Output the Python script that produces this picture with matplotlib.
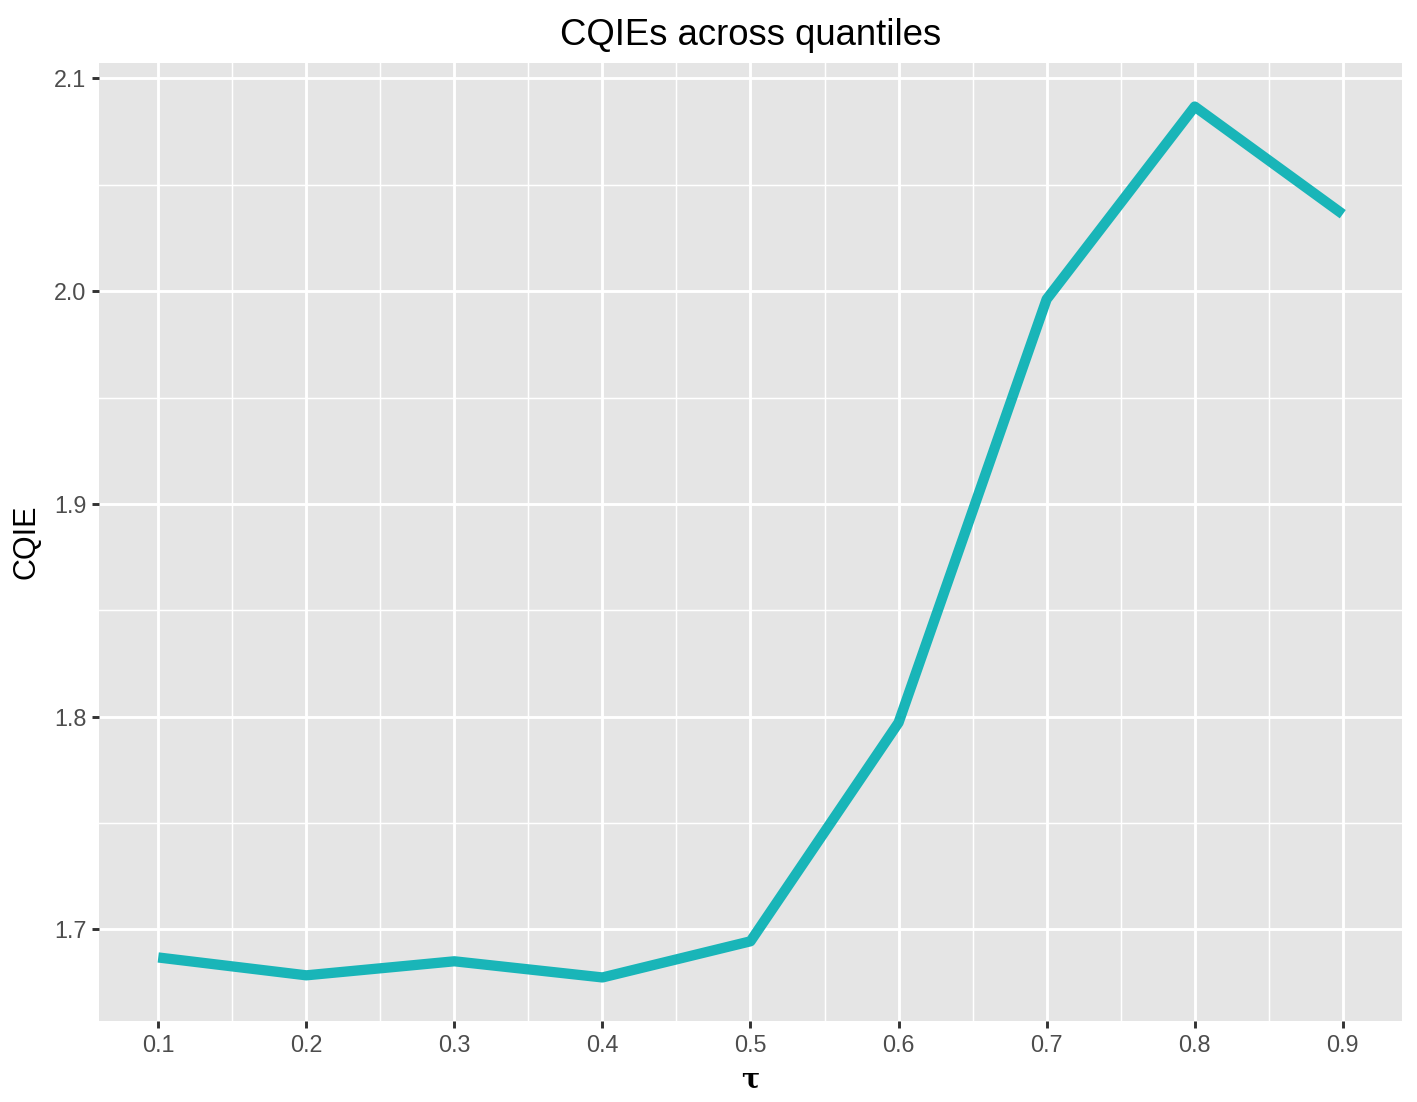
import matplotlib
matplotlib.use("Agg")
import matplotlib.pyplot as plt
import numpy as np

tau = [0.1, 0.2, 0.3, 0.4, 0.5, 0.6, 0.7, 0.8, 0.9]
cqie = [1.6868, 1.6784, 1.6850, 1.6774, 1.6944, 1.7972, 1.9962, 2.0868, 2.0362]
x_ticks = [0.1, 0.2, 0.3, 0.4, 0.5, 0.6, 0.7, 0.8, 0.9]
y_ticks = [1.7, 1.8, 1.9, 2.0, 2.1]
x_minor = [0.15, 0.25, 0.35, 0.45, 0.55, 0.65, 0.75, 0.85]
y_minor = [1.75, 1.85, 1.95, 2.05]

plt.rcParams['font.family'] = ['Liberation Sans', 'DejaVu Sans']

fig = plt.figure(figsize=(14.17, 11.02), dpi=100)
ax = fig.add_axes([99/1417, 1 - 1021/1102, (1402-99)/1417, (1021-63)/1102])
ax.set_facecolor('#E5E5E5')

ax.plot(tau, cqie, color='#19B5B8', lw=7.4, solid_capstyle='butt',
        solid_joinstyle='round', zorder=3)

xr = max(tau) - min(tau)
yr = max(cqie) - min(cqie)
ax.set_xlim(min(tau) - 0.05 * xr, max(tau) + 0.05 * xr)
ax.set_ylim(min(cqie) - 0.05 * yr, max(cqie) + 0.05 * yr)

ax.set_xticks(x_ticks)
ax.set_xticklabels([f"{v:.1f}" for v in x_ticks])
ax.set_yticks(y_ticks)
ax.set_yticklabels([f"{v:.1f}" for v in y_ticks])
ax.set_xticks(x_minor, minor=True)
ax.set_yticks(y_minor, minor=True)

ax.grid(which='major', color='white', lw=2.1, zorder=1)
ax.grid(which='minor', color='white', lw=1.05, zorder=1)
ax.set_axisbelow(True)
for s in ax.spines.values():
    s.set_visible(False)

ax.tick_params(which='major', length=5, width=2.1, color='#333333',
               labelsize=16.8, labelcolor='#4D4D4D', pad=4)
ax.tick_params(which='minor', length=0)

ax.set_title('CQIEs across quantiles', fontsize=26.3, pad=13, color='black')
ax.set_ylabel('CQIE', fontsize=22, labelpad=9, color='black')
ax.set_xlabel('τ', fontsize=19.5, labelpad=7, color='black',
              family=['DejaVu Serif'], fontweight='bold')

fig.savefig('out.png', dpi=100, facecolor='white')
